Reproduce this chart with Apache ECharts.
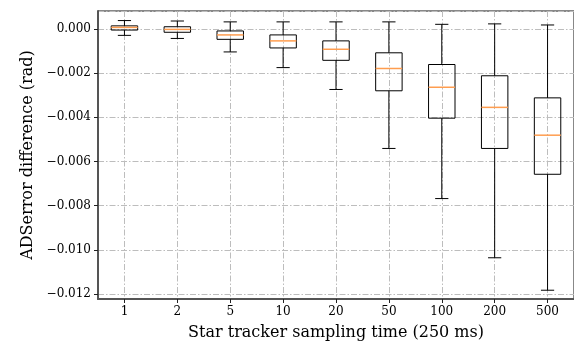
<!DOCTYPE html>
<html>
<head>
<meta charset="utf-8">
<script src="https://cdn.jsdelivr.net/npm/echarts@6/dist/echarts.min.js"></script>
<style>html,body{margin:0;padding:0;background:#fff}#c{width:574px;height:346px}</style>
</head>
<body>
<div id="c"></div>
<script>
// Sampling time categories (x tick labels)
var categories = ['1', '2', '5', '10', '20', '50', '100', '200', '500'];
// Box plot statistics (rad)
var whiskerHigh = [0.00038, 0.00036, 0.00032, 0.00032, 0.00032, 0.00032, 0.00021, 0.00023, 0.00018];
var q3          = [0.00014, 0.00010, -0.00009, -0.00027, -0.00054, -0.00108, -0.00161, -0.00212, -0.00312];
var medians     = [0.00007, -0.00002, -0.00027, -0.00054, -0.00092, -0.00179, -0.00264, -0.00355, -0.00481];
var q1          = [-0.00005, -0.00015, -0.00047, -0.00086, -0.00142, -0.00280, -0.00404, -0.00541, -0.00658];
var whiskerLow  = [-0.00029, -0.00043, -0.00104, -0.00175, -0.00274, -0.00541, -0.00768, -0.01036, -0.01183];
// Y tick label format
var yDecimals = 3;

var data = categories.map(function (c, i) {
  return [i + 1, whiskerHigh[i], q3[i], medians[i], q1[i], whiskerLow[i]];
});

var font = 'DejaVu Serif';
var chart = echarts.init(document.getElementById('c'), null, {renderer: 'canvas'});
var gridLine = {show: true, lineStyle: {color: '#bdbdbd', width: 1, type: [6, 2, 1.5, 2]}};

chart.setOption({
  animation: false,
  grid: {left: 98, top: 11, width: 478.5, height: 289, show: true, borderColor: '#111', borderWidth: 1, backgroundColor: 'transparent'},
  xAxis: {
    type: 'value', min: 0.5, max: 9.5, splitNumber: 9,
    name: 'Star tracker sampling time (250 ms)', nameLocation: 'middle', nameGap: 26,
    nameTextStyle: {fontFamily: font, fontSize: 16, color: '#000'},
    axisLine: {show: true, onZero: false, lineStyle: {color: '#555', width: 2}},
    axisTick: {show: true, length: 4, lineStyle: {color: '#222'}},
    axisLabel: {
      showMinLabel: false, showMaxLabel: false, margin: 7,
      fontFamily: font, fontSize: 12, color: '#000',
      formatter: function (v) { var k = Math.round(v); return Math.abs(v - k) < 1e-6 && k >= 1 && k <= categories.length ? categories[k - 1] : ''; }
    },
    splitLine: gridLine
  },
  yAxis: {
    type: 'value', min: -0.012227, max: 0.000813, splitNumber: 6,
    name: 'ADSerror difference (rad)', nameLocation: 'middle', nameGap: 60, nameRotate: 90,
    nameTextStyle: {fontFamily: font, fontSize: 16, color: '#000'},
    axisLine: {show: true, lineStyle: {color: '#555', width: 2}},
    axisTick: {show: true, length: 4, lineStyle: {color: '#222'}},
    axisLabel: {
      showMinLabel: false, showMaxLabel: false, margin: 7,
      fontFamily: font, fontSize: 12, color: '#000',
      formatter: function (v) { if (Math.abs(v) < 1e-9) return (0).toFixed(yDecimals); return (v < 0 ? '\u2212' : '') + Math.abs(v).toFixed(yDecimals); }
    },
    splitLine: gridLine
  },
  series: [{
    type: 'custom',
    data: data,
    encode: {x: 0, y: [1, 2, 3, 4, 5]},
    renderItem: function (params, api) {
      var x = api.value(0);
      var bw = api.size([1, 0])[0];
      var half = bw * 0.25, cap = bw * 0.125;
      var pHi = api.coord([x, api.value(1)]);
      var pQ3 = api.coord([x, api.value(2)]);
      var pMed = api.coord([x, api.value(3)]);
      var pQ1 = api.coord([x, api.value(4)]);
      var pLo = api.coord([x, api.value(5)]);
      var cx = pHi[0];
      var black = {stroke: '#000', lineWidth: 1, fill: null};
      return {
        type: 'group',
        children: [
          {type: 'line', shape: {x1: cx, y1: pHi[1], x2: cx, y2: pQ3[1]}, style: black},
          {type: 'line', shape: {x1: cx, y1: pQ1[1], x2: cx, y2: pLo[1]}, style: black},
          {type: 'line', shape: {x1: cx - cap, y1: pHi[1], x2: cx + cap, y2: pHi[1]}, style: black},
          {type: 'line', shape: {x1: cx - cap, y1: pLo[1], x2: cx + cap, y2: pLo[1]}, style: black},
          {type: 'rect', shape: {x: cx - half, y: pQ3[1], width: 2 * half, height: pQ1[1] - pQ3[1]}, style: {stroke: '#000', lineWidth: 1, fill: 'transparent'}},
          {type: 'line', shape: {x1: cx - half, y1: pMed[1], x2: cx + half, y2: pMed[1]}, style: {stroke: '#ff9d4f', lineWidth: 1.5}}
        ]
      };
    }
  }]
});
</script>
</body>
</html>
